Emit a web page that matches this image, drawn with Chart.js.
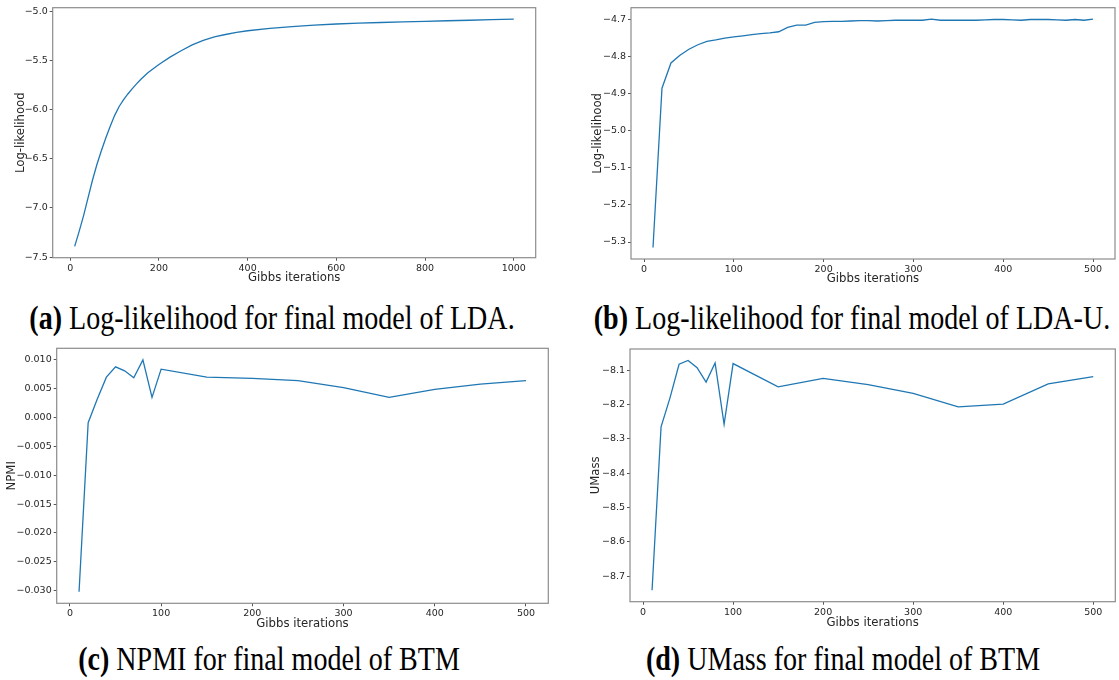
<!DOCTYPE html>
<html>
<head>
<meta charset="utf-8">
<script src="https://cdn.jsdelivr.net/npm/chart.js@4/dist/chart.umd.min.js"></script>
<style>
  body { margin: 0; background: #fff; width: 1119px; height: 680px; position: relative; overflow: hidden; }
  canvas { position: absolute; }
  .cap { position: absolute; width: 640px; text-align: center; font-family: "Liberation Serif", "Times New Roman", serif;
         font-size: 33px; line-height: 33px; color: #000; white-space: nowrap; transform: scaleX(0.85); transform-origin: 50% 50%; }
  .cap b { font-weight: bold; }
</style>
</head>
<body>
<canvas id="chartA" width="560" height="292" style="left:0px;top:0px"></canvas>
<canvas id="chartB" width="544" height="292" style="left:575px;top:0px"></canvas>
<canvas id="chartC" width="560" height="295" style="left:0px;top:340px"></canvas>
<canvas id="chartD" width="544" height="295" style="left:575px;top:340px"></canvas>
<div class="cap" style="left:-48px;top:302px"><b>(a)</b> Log-likelihood for final model of LDA.</div>
<div class="cap" style="left:532px;top:302px"><b>(b)</b> Log-likelihood for final model of LDA-U.</div>
<div class="cap" style="left:-51px;top:643px"><b>(c)</b> NPMI for final model of BTM</div>
<div class="cap" style="left:523px;top:643px"><b>(d)</b> UMass for final model of BTM</div>
<script>
// (a) LDA log-likelihood
const itersA = [10, 20, 30, 40, 50, 60, 70, 80, 90, 100, 110, 120, 130, 140, 150, 160, 175, 200, 225, 250, 275, 300, 325, 350, 375, 400, 450, 500, 550, 600, 650, 700, 750, 800, 850, 900, 950, 1000];
const logLikA = [-7.39, -7.24, -7.08, -6.90, -6.72, -6.56, -6.42, -6.29, -6.17, -6.06, -5.97, -5.90, -5.84, -5.785, -5.735, -5.688, -5.625, -5.54, -5.465, -5.40, -5.34, -5.295, -5.26, -5.235, -5.213, -5.197, -5.172, -5.155, -5.14, -5.128, -5.12, -5.113, -5.107, -5.101, -5.095, -5.09, -5.084, -5.078];
const xTicksA = [0, 200, 400, 600, 800, 1000];
const yTicksA = [-7.5, -7.0, -6.5, -6.0, -5.5, -5.0];

// (b) LDA-U log-likelihood
const itersB = [10, 20, 30, 40, 50, 60, 70, 80, 90, 100, 110, 120, 130, 140, 150, 160, 170, 180, 190, 200, 210, 220, 230, 240, 250, 260, 270, 280, 290, 300, 310, 320, 330, 340, 350, 360, 370, 380, 390, 400, 410, 420, 430, 440, 450, 460, 470, 480, 490, 500];
const logLikB = [-5.315, -4.886, -4.818, -4.797, -4.781, -4.769, -4.760, -4.756, -4.751, -4.748, -4.745, -4.742, -4.739, -4.737, -4.734, -4.722, -4.716, -4.716, -4.709, -4.707, -4.706, -4.706, -4.705, -4.704, -4.704, -4.705, -4.704, -4.703, -4.703, -4.703, -4.703, -4.700, -4.703, -4.703, -4.703, -4.703, -4.703, -4.702, -4.701, -4.701, -4.702, -4.703, -4.701, -4.701, -4.701, -4.702, -4.703, -4.701, -4.703, -4.700];
const xTicksB = [0, 100, 200, 300, 400, 500];
const yTicksB = [-5.3, -5.2, -5.1, -5.0, -4.9, -4.8, -4.7];

// (c) BTM NPMI, (d) BTM UMass
const itersBTM = [10, 20, 30, 40, 50, 60, 70, 80, 90, 100, 150, 200, 250, 300, 350, 400, 450, 500];
const npmiC = [-0.0302, -0.0009, 0.0032, 0.0070, 0.0088, 0.0081, 0.0069, 0.0100, 0.0035, 0.0084, 0.0070, 0.0068, 0.0064, 0.0052, 0.0035, 0.0049, 0.0058, 0.0064];
const umassD = [-8.741, -8.265, -8.18, -8.083, -8.072, -8.093, -8.135, -8.079, -8.258, -8.081, -8.149, -8.124, -8.142, -8.168, -8.207, -8.199, -8.140, -8.119];
const xTicksBTM = [0, 100, 200, 300, 400, 500];
const yTicksC = [-0.030, -0.025, -0.020, -0.015, -0.010, -0.005, 0.000, 0.005, 0.010];
const yTicksD = [-8.7, -8.6, -8.5, -8.4, -8.3, -8.2, -8.1];

const azul = '#1f77b4';
const tinta = '#262626';
const fuente = 'DejaVu Sans';

// marco completo alrededor del área de dibujo
const marco = {
  id: 'marco',
  afterDraw(chart) {
    const { ctx, chartArea: a } = chart;
    ctx.save();
    ctx.strokeStyle = '#8c8c8c';
    ctx.lineWidth = 1.2;
    ctx.strokeRect(a.left, a.top, a.right - a.left, a.bottom - a.top);
    ctx.restore();
  }
};

function margen(vals) {
  const lo = Math.min(...vals), hi = Math.max(...vals);
  const d = (hi - lo) * 0.05;
  return [lo - d, hi + d];
}

function fmt(v, dec) {
  const s = Math.abs(v).toFixed(dec);
  return (v < 0 && Number(s) !== 0 ? '\u2212' : '') + s;
}

function crearGrafico(id, xs, ys, xTicks, yTicks, dec, yTitulo, lay) {
  const [xMin, xMax] = margen(xs);
  const [yMin, yMax] = margen(ys);
  const puntos = xs.map((x, i) => ({ x: x, y: ys[i] }));
  new Chart(document.getElementById(id).getContext('2d'), {
    type: 'line',
    data: {
      datasets: [{
        data: puntos,
        borderColor: azul,
        borderWidth: 1.3,
        pointRadius: 0,
        fill: false,
        tension: 0
      }]
    },
    options: {
      responsive: false,
      animation: false,
      layout: { padding: { top: lay.padTop, right: lay.padRight, left: 0, bottom: 0 } },
      plugins: { legend: { display: false }, tooltip: { enabled: false } },
      scales: {
        x: {
          type: 'linear',
          min: xMin,
          max: xMax,
          afterBuildTicks: s => { s.ticks = xTicks.map(v => ({ value: v })); },
          afterFit: s => { s.height = lay.xH; },
          grid: { display: true, drawOnChartArea: false, drawTicks: true, tickLength: 3, color: '#555' },
          border: { display: false },
          ticks: { font: { family: fuente, size: 9.5 }, color: tinta, padding: 2, maxRotation: 0,
                   callback: v => String(v) },
          title: { display: true, text: 'Gibbs iterations', color: tinta,
                   font: { family: fuente, size: 11.7 }, padding: { top: 0, bottom: lay.xTitlePad } }
        },
        y: {
          min: yMin,
          max: yMax,
          afterBuildTicks: s => { s.ticks = yTicks.map(v => ({ value: v })); },
          afterFit: s => { s.width = lay.yW; },
          grid: { display: true, drawOnChartArea: false, drawTicks: true, tickLength: 3, color: '#555' },
          border: { display: false },
          ticks: { font: { family: fuente, size: 9.5 }, color: tinta, padding: 2,
                   callback: v => fmt(v, dec) },
          title: { display: true, text: yTitulo, color: tinta,
                   font: { family: fuente, size: 11.7 }, padding: { top: lay.yTitlePad, bottom: 0 } }
        }
      }
    },
    plugins: [marco]
  });
}

crearGrafico('chartA', itersA, logLikA, xTicksA, yTicksA, 1, 'Log-likelihood',
  { yW: 52.7, xH: 34.3, padTop: 7.3, padRight: 24.3, xTitlePad: 7, yTitlePad: 13.7 });
crearGrafico('chartB', itersB, logLikB, xTicksB, yTicksB, 1, 'Log-likelihood',
  { yW: 56, xH: 33, padTop: 7.3, padRight: 4, xTitlePad: 5.7, yTitlePad: 16.3 });
crearGrafico('chartC', itersBTM, npmiC, xTicksBTM, yTicksC, 3, 'NPMI',
  { yW: 56.7, xH: 31.7, padTop: 8.3, padRight: 11.7, xTitlePad: 4, yTitlePad: 4.7 });
crearGrafico('chartD', itersBTM, umassD, xTicksBTM, yTicksD, 1, 'UMass',
  { yW: 55, xH: 33.3, padTop: 9, padRight: 3.7, xTitlePad: 5.3, yTitlePad: 14 });
</script>
</body>
</html>
